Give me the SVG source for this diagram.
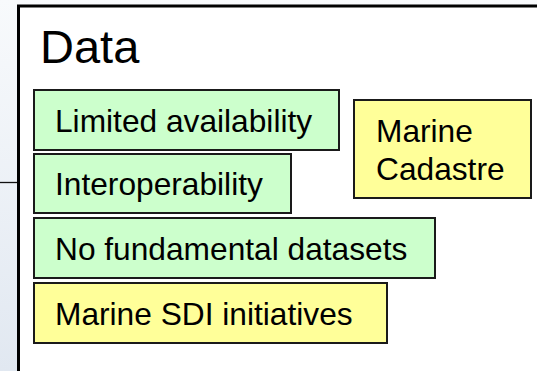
<svg xmlns="http://www.w3.org/2000/svg" width="537" height="371" viewBox="0 0 537 371">
  <defs>
    <linearGradient id="bg" x1="0" y1="0" x2="0" y2="1">
      <stop offset="0" stop-color="#f8fafc"/>
      <stop offset="1" stop-color="#e1e8f1"/>
    </linearGradient>
    <style>
      .box { stroke: #1a1a1a; stroke-width: 2; }
      .green { fill: #ccffcc; }
      .yellow { fill: #ffff99; }
      .lbl { font-family: "Liberation Sans", Arial, sans-serif; font-size: 31.7px; fill: #000; }
      .title { font-family: "Liberation Sans", Arial, sans-serif; font-size: 47px; fill: #000; }
    </style>
  </defs>
  <rect x="0" y="0" width="537" height="371" fill="url(#bg)"/>
  <g id="connectors">
    <line x1="0" y1="182.5" x2="18" y2="182.5" stroke="#111" stroke-width="1.3"/>
  </g>
  <g id="data-panel">
    <rect x="18.5" y="6" width="530" height="380" fill="#ffffff" stroke="#000" stroke-width="3"/>
    <text class="title" x="40" y="63">Data</text>
  </g>
  <g id="limited-availability">
    <rect class="box green" x="34" y="90" width="305" height="60"/>
    <text class="lbl" x="55" y="132">Limited availability</text>
  </g>
  <g id="interoperability">
    <rect class="box green" x="34" y="154" width="257" height="59"/>
    <text class="lbl" x="55" y="195">Interoperability</text>
  </g>
  <g id="no-fundamental-datasets">
    <rect class="box green" x="34" y="218" width="401" height="60"/>
    <text class="lbl" x="55" y="260">No fundamental datasets</text>
  </g>
  <g id="marine-sdi-initiatives">
    <rect class="box yellow" x="34" y="283" width="353" height="60"/>
    <text class="lbl" x="55" y="324.5">Marine SDI initiatives</text>
  </g>
  <g id="marine-cadastre">
    <rect class="box yellow" x="354" y="100" width="177" height="98"/>
    <text class="lbl" x="376" y="142">Marine</text>
    <text class="lbl" x="376" y="180">Cadastre</text>
  </g>
</svg>
